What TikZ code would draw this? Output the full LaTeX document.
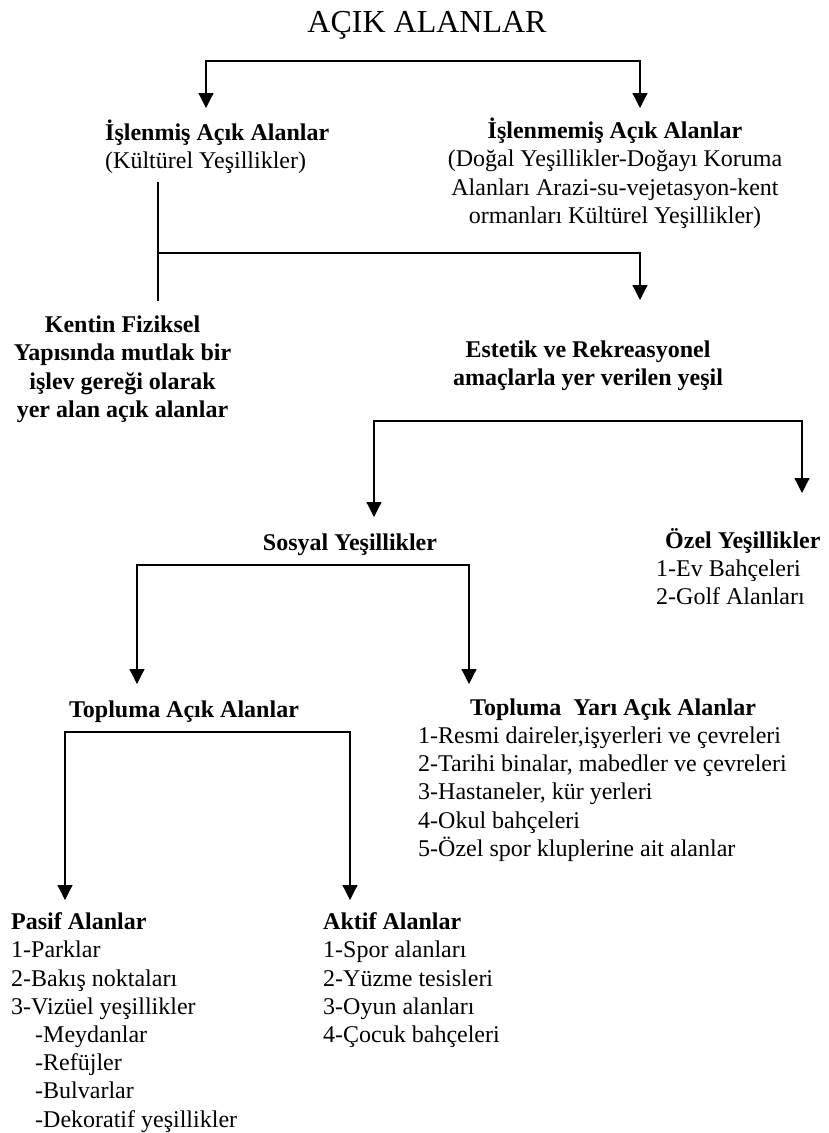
\documentclass[tikz,border=0pt]{standalone}
\usepackage{fontspec}
\setmainfont{Liberation Serif}
\usetikzlibrary{arrows.meta}
\newcommand{\fs}{\rule{0pt}{24pt}}
\tikzset{
  txt/.style={inner sep=0pt, font=\fontsize{24}{28.2}\selectfont},
  btxt/.style={inner sep=0pt, font=\fontsize{24}{28.2}\selectfont\bfseries},
  ln/.style={line width=1.2pt},
  arr/.style={line width=1.2pt, -{Triangle[width=15pt,length=15pt]}},
  darr/.style={line width=1.2pt, {Triangle[width=15pt,length=15pt]}-{Triangle[width=15pt,length=15pt]}},
}
\begin{document}
\begin{tikzpicture}[x=1pt,y=-1pt]
\useasboundingbox (0,0) rectangle (828,1133);
\fill[white] (0,0) rectangle (828,1133);

% title
\node[inner sep=0pt, font=\fontsize{32}{38}\selectfont, anchor=base] (title) at (427,32) {AÇIK ALANLAR};

% level 1
\node[txt, anchor=north west, align=left] (isl) at (105,116)
  {\fs\textbf{İşlenmiş Açık Alanlar}\\(Kültürel Yeşillikler)};
\node[txt, anchor=north, align=center] (islm) at (615,114.5)
  {\fs\textbf{İşlenmemiş Açık Alanlar}\\(Doğal Yeşillikler-Doğayı Koruma\\Alanları Arazi-su-vejetasyon-kent\\ormanları Kültürel Yeşillikler)};

% level 2
\node[btxt, anchor=north, align=center] (kentin) at (122.5,308.5)
  {\fs Kentin Fiziksel\\Yapısında mutlak bir\\işlev gereği olarak\\yer alan açık alanlar};
\node[btxt, anchor=north, align=center] (estetik) at (588,333)
  {\fs Estetik ve Rekreasyonel\\amaçlarla yer verilen yeşil};

% level 3
\node[btxt, anchor=base] (sosyal) at (350,550) {Sosyal Yeşillikler};
\node[txt, anchor=north west, align=left] (ozel) at (656,524)
  {\fs\hspace*{9pt}\textbf{Özel Yeşillikler}\\1-Ev Bahçeleri\\2-Golf Alanları};

% level 4
\node[btxt, anchor=base] (topA) at (184,717) {Topluma Açık Alanlar};
\node[txt, anchor=north west, align=left] (topY) at (418,691)
  {\fs\hspace*{52pt}\textbf{Topluma~ Yarı Açık Alanlar}\\1-Resmi daireler,işyerleri ve çevreleri\\2-Tarihi binalar, mabedler ve çevreleri\\3-Hastaneler, kür yerleri\\4-Okul bahçeleri\\5-Özel spor kluplerine ait alanlar};

% level 5
\node[txt, anchor=north west, align=left] (pasif) at (11,905.4)
  {\fs\textbf{Pasif Alanlar}\\1-Parklar\\2-Bakış noktaları\\3-Vizüel yeşillikler\\\hspace*{24pt}-Meydanlar\\\hspace*{24pt}-Refüjler\\\hspace*{24pt}-Bulvarlar\\\hspace*{24pt}-Dekoratif yeşillikler};
\node[txt, anchor=north west, align=left] (aktif) at (323,905.4)
  {\fs\textbf{Aktif Alanlar}\\1-Spor alanları\\2-Yüzme tesisleri\\3-Oyun alanları\\4-Çocuk bahçeleri};

% connector points
\coordinate (b1) at (423,61);
\coordinate (t1l) at (206,108);
\coordinate (t1r) at (640,108);
\coordinate (v2a) at (158,181.7);
\coordinate (v2b) at (158,300.7);
\coordinate (v2m) at (158,253);
\coordinate (t2) at (640,300);
\coordinate (b3) at (588,421);
\coordinate (t3l) at (374,517);
\coordinate (t3r) at (802,493);
\coordinate (b4) at (303,565);
\coordinate (t4l) at (137,684);
\coordinate (t4r) at (469,684);
\coordinate (b5) at (207,732);
\coordinate (t5l) at (65,900);
\coordinate (t5r) at (350,900);

% connectors
\draw[darr] (t1l) |- (b1) -| (t1r);
\draw[ln] (v2a) -- (v2b);
\draw[arr] (v2m) -| (t2);
\draw[darr] (t3l) |- (b3) -| (t3r);
\draw[darr] (t4l) |- (b4) -| (t4r);
\draw[darr] (t5l) |- (b5) -| (t5r);
\end{tikzpicture}
\end{document}
